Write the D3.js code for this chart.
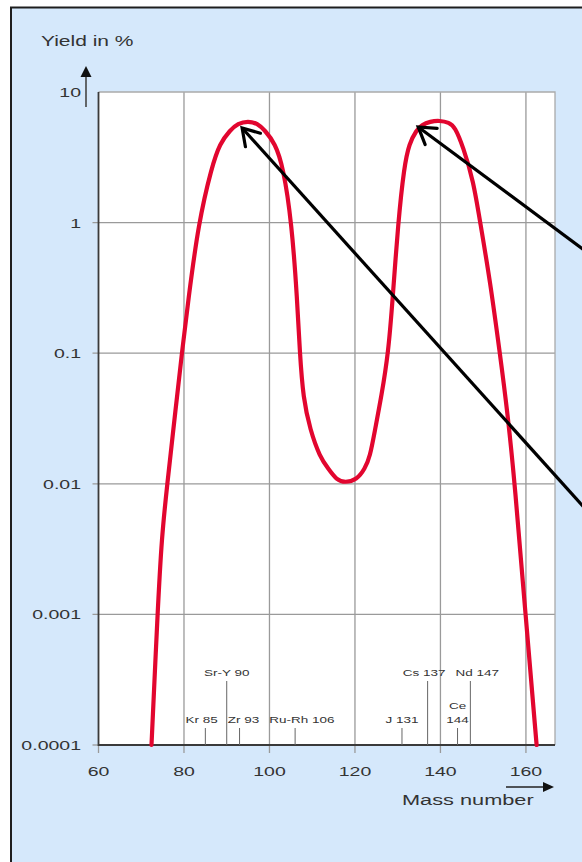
<!DOCTYPE html>
<html>
<head>
<meta charset="utf-8">
<script src="https://d3js.org/d3.v7.min.js"></script>
<style>
html, body { margin: 0; padding: 0; background: #fff; }
svg { display: block; }
</style>
</head>
<body>
<div id="chart"></div>
<script>
"use strict";

// fission yield curve: mass number -> yield in %
var massNumbers = [72.4, 73.8, 74.8, 76.1, 77.5, 78.3, 79.5, 81.0, 83.4, 86.5, 88.4, 90.8, 92.6, 95.0,
                   97.2, 98.9, 101.3, 103.2, 105.2, 106.5, 107.1, 107.9, 109.5, 111.8, 113.8,
                   115.7, 117.7, 120.4, 122.3, 123.5, 124.7, 126.2, 127.8, 128.8, 130.1, 131.5,
                   132.7, 134.4, 135.6, 137.6, 139.8, 142.0, 143.4, 145.3, 147.7, 149.3, 151.6,
                   153.9, 155.7, 157.4, 159.9, 162.5];
var yields = [0.0001, 0.001, 0.004, 0.01, 0.026, 0.044, 0.1, 0.255, 1, 2.68, 4.05, 5.1, 5.75, 6.0,
              5.75, 5.1, 4.05, 2.68, 1, 0.255, 0.1, 0.045, 0.026, 0.016, 0.013,
              0.0107, 0.0102, 0.0107, 0.013, 0.016, 0.026, 0.047, 0.1, 0.255, 1, 2.68,
              4.05, 5.1, 5.6, 5.95, 6.05, 5.85, 5.4, 3.8, 2.1, 1, 0.36,
              0.1, 0.035, 0.01, 0.001, 0.0001];

var yTicks = [10, 1, 0.1, 0.01, 0.001, 0.0001];
var yTickLabels = ["10", "1", "0.1", "0.01", "0.001", "0.0001"];
var xTicks = [60, 80, 100, 120, 140, 160];

// marked fission products along the mass axis
var isoNames = ["Kr", "Sr-Y", "Zr", "Ru-Rh", "J", "Cs", "Ce", "Nd"];
var isoMasses = [85, 90, 93, 106, 131, 137, 144, 147];
var isoTall = [false, true, false, false, false, true, false, true];
var isoStacked = [false, false, false, false, false, false, true, false];

// the two black arrows: tip and tail in data units
var arrowTips = [[93.6, 5.3], [134.8, 5.4]];
var arrowTails = [[177.3, 0.00484], [177.3, 0.502]];

(function(){

	var width = 582, height = 862;
	var pLeft = 98.5, pRight = 555, pTop = 92, pBottom = 745;
	var stretch = 1.5;
	var ink = "#333";
	var gridColor = "#9a9a9a";

	var x = d3.scaleLinear().domain([60, 166.8]).range([pLeft, pRight]);
	var y = d3.scaleLog().domain([0.0001, 10]).range([pBottom, pTop]);

	var svg = d3.select("#chart")
		.append("svg")
		.attr("width", width)
		.attr("height", height);

	// panel
	svg.append("rect")
		.attr("x", 10).attr("y", 7)
		.attr("width", width - 10).attr("height", height - 7)
		.style("fill", "#d5e8fb");

	svg.append("path")
		.attr("d", "M11," + height + "V7.5H" + width)
		.style("fill", "none")
		.style("stroke", "#1e1e1e")
		.style("stroke-width", 2);

	svg.append("rect")
		.attr("x", pLeft).attr("y", pTop)
		.attr("width", pRight - pLeft).attr("height", pBottom - pTop)
		.style("fill", "white");

	function label(g, tx, ty, str, size, anchor){
		return g.append("text")
			.attr("transform", "translate(" + tx + "," + ty + ") scale(" + stretch + ",1)")
			.attr("text-anchor", anchor || "middle")
			.style("font-family", "'Liberation Sans', Arial, sans-serif")
			.style("font-size", size + "px")
			.style("fill", ink)
			.text(str);
	}

	// grid
	var grid = svg.append("g");

	grid.selectAll("line.vgrid")
		.data(xTicks)
		.enter().append("line")
		.attr("class", "vgrid")
		.attr("x1", function(d){ return x(d); })
		.attr("x2", function(d){ return x(d); })
		.attr("y1", function(d){ return d === 60 ? pBottom : pTop; })
		.attr("y2", pBottom + 8)
		.style("stroke", gridColor)
		.style("stroke-width", 1.3);

	grid.selectAll("line.hgrid")
		.data(yTicks.filter(function(d){ return d !== 10; }))
		.enter().append("line")
		.attr("class", "hgrid")
		.attr("x1", pLeft - 6)
		.attr("x2", function(d){ return d === 0.0001 ? pLeft : pRight; })
		.attr("y1", function(d){ return y(d); })
		.attr("y2", function(d){ return y(d); })
		.style("stroke", gridColor)
		.style("stroke-width", 1.3);

	// top and right frame
	grid.append("path")
		.attr("d", "M" + pLeft + "," + pTop + "H" + pRight + "V" + pBottom)
		.style("fill", "none")
		.style("stroke", "#aaa")
		.style("stroke-width", 1.3);

	// axes
	svg.append("path")
		.attr("d", "M" + pLeft + "," + pTop + "V" + pBottom + "H" + pRight)
		.style("fill", "none")
		.style("stroke", "#3a3a3a")
		.style("stroke-width", 1.8);

	// tick labels
	yTicks.forEach(function(d, i){
		label(svg, 81, y(d) + 5, yTickLabels[i], 13, "end");
	});
	xTicks.forEach(function(d){
		label(svg, x(d), 776, d, 13);
	});

	// axis titles and arrows
	label(svg, 41, 46, "Yield in %", 14, "start");
	label(svg, 402, 805, "Mass number", 14.5, "start");

	svg.append("line")
		.attr("x1", 86).attr("x2", 86)
		.attr("y1", 107).attr("y2", 76)
		.style("stroke", "#444").style("stroke-width", 1.6);
	svg.append("path")
		.attr("d", "M86,66L80.5,77H91.5Z")
		.style("fill", "#111");

	svg.append("line")
		.attr("x1", 506).attr("x2", 545)
		.attr("y1", 787).attr("y2", 787)
		.style("stroke", "#222").style("stroke-width", 1.4);
	svg.append("path")
		.attr("d", "M554,787L543,782V792Z")
		.style("fill", "#111");

	// isotope markers
	var iso = svg.append("g");
	var rows = {tall: [], short: []};
	isoMasses.forEach(function(m, i){
		var px = x(m);
		iso.append("line")
			.attr("x1", px).attr("x2", px)
			.attr("y1", pBottom)
			.attr("y2", isoTall[i] ? 681 : 728)
			.style("stroke", "#666")
			.style("stroke-width", 1);
		if (isoStacked[i]) {
			label(iso, px, 709, isoNames[i], 9);
			label(iso, px, 723, m, 9);
		} else {
			var ty = isoTall[i] ? 676 : 723;
			var t = label(iso, px, ty, isoNames[i] + " " + m, 9);
			(isoTall[i] ? rows.tall : rows.short).push({node: t, cx: px, ty: ty, w: t.node().getBBox().width * stretch});
		}
	});

	// nudge labels apart where neighbours would touch
	[rows.tall, rows.short].forEach(function(row){
		row.sort(function(a, b){ return a.cx - b.cx; });
		for (var pass = 0; pass < 3; pass++) {
			for (var k = 1; k < row.length; k++) {
				var a = row[k - 1], b = row[k];
				var overlap = (a.cx + a.w / 2 + 10) - (b.cx - b.w / 2);
				if (overlap > 0) { a.cx -= overlap / 3; b.cx += overlap * 2 / 3; }
			}
		}
		row.forEach(function(r){
			r.node.attr("transform", "translate(" + r.cx + "," + r.ty + ") scale(" + stretch + ",1)");
		});
	});

	// yield curve
	var points = massNumbers.map(function(m, i){ return [m, yields[i]]; });

	var line = d3.line()
		.x(function(d){ return x(d[0]); })
		.y(function(d){ return y(d[1]); })
		.curve(d3.curveBasis);

	svg.append("path")
		.datum(points)
		.attr("d", line)
		.style("fill", "none")
		.style("stroke", "#e2062f")
		.style("stroke-width", 4.2)
		.style("stroke-linecap", "round");

	// arrows towards the humps
	arrowTips.forEach(function(tip, i){
		var tx = x(tip[0]), ty = y(tip[1]);
		var ex = x(arrowTails[i][0]), ey = y(arrowTails[i][1]);
		var a = Math.atan2(ey - ty, ex - tx);
		var len = 19, spread = 32 * Math.PI / 180;
		var p1 = [tx + len * Math.cos(a - spread), ty + len * Math.sin(a - spread)];
		var p2 = [tx + len * Math.cos(a + spread), ty + len * Math.sin(a + spread)];

		svg.append("line")
			.attr("x1", tx).attr("y1", ty)
			.attr("x2", ex).attr("y2", ey)
			.style("stroke", "black")
			.style("stroke-width", 3.2);

		svg.append("path")
			.attr("d", "M" + p1 + "L" + tx + "," + ty + "L" + p2)
			.style("fill", "none")
			.style("stroke", "black")
			.style("stroke-width", 3.2)
			.style("stroke-linecap", "round")
			.style("stroke-linejoin", "miter");
	});

})();
</script>
</body>
</html>
